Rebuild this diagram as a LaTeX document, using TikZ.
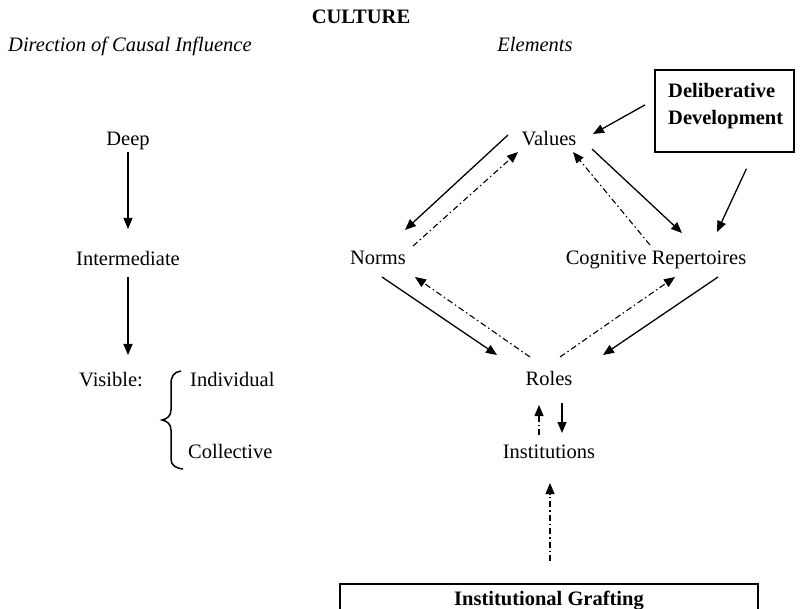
\documentclass[tikz,border=0pt]{standalone}
\usepackage{fontspec}
\setmainfont{Liberation Serif}
\usetikzlibrary{arrows.meta}
\begin{document}
\begin{tikzpicture}[x=1pt,y=-1pt,
  lbl/.style={inner sep=0pt,anchor=base,font=\fontsize{20.5pt}{24pt}\selectfont},
  lblw/.style={lbl,anchor=base west},
  tip/.style={-{Triangle[length=11pt,width=9pt]}},
  solidarr/.style={tip,line width=1.3pt},
  dasharr/.style={tip,line width=1.1pt,dash pattern=on 6pt off 3pt on 1.5pt off 3pt},
  framebox/.style={draw,line width=1.8pt,inner sep=0pt}]
\useasboundingbox (0,0) rectangle (800,609);

% headings
\node[lbl,font=\fontsize{20.5pt}{24pt}\selectfont\bfseries] (title) at (361,24) {CULTURE};
\node[lblw,font=\fontsize{20.5pt}{24pt}\selectfont\itshape] (dirhead) at (8,52) {Direction of Causal Influence};
\node[lbl,font=\fontsize{20.5pt}{24pt}\selectfont\itshape] (elhead) at (535,52) {Elements};

% causal levels
\node[lbl] (deep) at (128,146) {Deep};
\node[lbl] (interm) at (128,266) {Intermediate};
\node[lblw] (visible) at (79,386) {Visible:};
\node[lblw] (indiv) at (190,386) {Individual};
\node[lblw] (collect) at (188,458) {Collective};

% elements
\node[lbl] (values) at (549,146) {Values};
\node[lbl] (norms) at (378,265) {Norms};
\node[lbl] (cog) at (656,265) {Cognitive Repertoires};
\node[lbl] (roles) at (549,385) {Roles};
\node[lbl] (inst) at (549,458) {Institutions};

% outside sources
\node[framebox,minimum width=139pt,minimum height=82pt,anchor=north west] (delib) at (654,69) {};
\node[lblw,font=\fontsize{20.5pt}{24pt}\selectfont\bfseries] (delibA) at (668,98) {Deliberative};
\node[lblw,font=\fontsize{20.5pt}{24pt}\selectfont\bfseries] (delibB) at (668,125) {Development};
\node[draw,line width=1.3pt,anchor=base,minimum width=418pt,text height=14pt,text depth=5pt,inner ysep=7pt,inner xsep=0pt,font=\fontsize{20.5pt}{24pt}\selectfont\bfseries] (graft) at (549,605) {Institutional Grafting};

% brace
\draw[line width=1.5pt] (181,371) .. controls (174,372) and (171,376) .. (171,384) -- (171,410)
  .. controls (171,416) and (167,419) .. (162,420)
  .. controls (167,421) and (171,424) .. (171,430) -- (171,459)
  .. controls (171,465) and (175,468) .. (183,469);

% causal direction
\draw[solidarr] ([shift={(0,6)}]deep.base) -- ([shift={(0,-37)}]interm.base);
\draw[solidarr] ([shift={(0,11)}]interm.base) -- ([shift={(0,-31)}]visible.base -| interm.base);

% values - norms
\draw[solidarr] ([shift={(-41,-11)}]values.base) -- ([shift={(27,-35)}]norms.base);
\draw[dasharr] ([shift={(35,-19)}]norms.base) -- ([shift={(-31,6)}]values.base);
% values - cognitive repertoires
\draw[solidarr] ([shift={(43,3)}]values.base) -- ([shift={(26,-32)}]cog.base);
\draw[dasharr] ([shift={(-6,-20)}]cog.base) -- ([shift={(24,6)}]values.base);
% deliberative development
\draw[solidarr] ([shift={(-9,-6)}]delib.west) -- ([shift={(44,-12)}]values.base);
\draw[solidarr] ([shift={(22,16)}]delib.south) -- ([shift={(61,-33)}]cog.base);
% norms - roles
\draw[solidarr] ([shift={(4,12)}]norms.base) -- ([shift={(-52,-30)}]roles.base);
\draw[dasharr] ([shift={(-19,-28)}]roles.base) -- ([shift={(37,12)}]norms.base);
% cognitive repertoires - roles
\draw[dasharr] ([shift={(11,-28)}]roles.base) -- ([shift={(19,12)}]cog.base);
\draw[solidarr] ([shift={(62,12)}]cog.base) -- ([shift={(54,-30)}]roles.base);
% roles - institutions
\draw[dasharr] ([shift={(-10,-23)}]inst.base) -- ([shift={(-10,20)}]roles.base);
\draw[solidarr] ([shift={(13,18)}]roles.base) -- ([shift={(13,-25)}]inst.base);
% grafting
\draw[dasharr] ([shift={(1,-22)}]graft.north) -- ([shift={(1,25)}]inst.base);
\end{tikzpicture}
\end{document}
